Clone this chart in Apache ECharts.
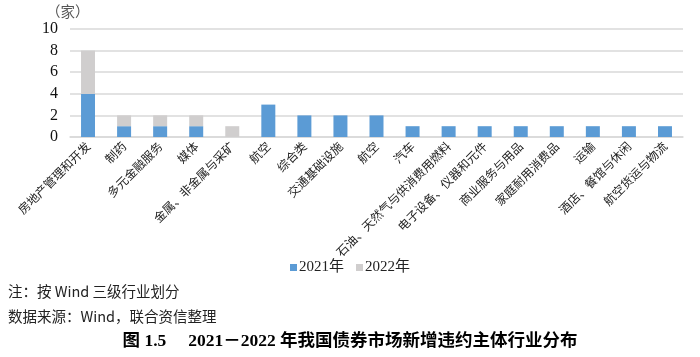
<!DOCTYPE html>
<html>
<head>
<meta charset="utf-8">
<script src="https://cdn.jsdelivr.net/npm/echarts@6.0.0/dist/echarts.min.js"></script>
<style>
html,body{margin:0;padding:0;background:#fff;}
#c{width:700px;height:357px;}
</style>
</head>
<body>
<div id="c"></div>
<script>
const categories = ['房地产管理和开发','制药','多元金融服务','媒体','金属、非金属与采矿','航空','综合类','交通基础设施','航空','汽车','石油、天然气与供消费用燃料','电子设备、仪器和元件','商业服务与用品','家庭耐用消费品','运输','酒店、餐馆与休闲','航空货运与物流'];
const values2021 = [4,1,1,1,0,3,2,2,2,1,1,1,1,1,1,1,1];
const values2022 = [4,1,1,1,1,0,0,0,0,0,0,0,0,0,0,0,0];
const yTicks = [0,2,4,6,8,10];
const seriesNames = ['2021年','2022年'];
const unitLabel = '（家）';
const noteText = '注：按 Wind 三级行业划分';
const sourceText = '数据来源：Wind，联合资信整理';
const titleText = '图 1.5　 2021－2022 年我国债券市场新增违约主体行业分布';

const serif = '"Liberation Serif","Noto Sans CJK SC",serif';
const cjk = '"Noto Sans CJK SC","Liberation Serif",sans-serif';

const chart = echarts.init(document.getElementById('c'), null, {renderer:'canvas'});
chart.setOption({
  animation:false,
  backgroundColor:'#fff',
  grid:{left:70,right:17,top:29,bottom:220,outerBoundsMode:'none',containLabel:false},
  legend:{
    data:seriesNames,
    top:255,left:'center',
    itemWidth:7,itemHeight:7,itemGap:12,
    icon:'rect',
    textStyle:{fontFamily:serif,fontSize:15,color:'#222',padding:[0,0,0,-3]}
  },
  xAxis:{
    type:'category',
    data:categories,
    axisLine:{show:true,lineStyle:{color:'#D9D9D9',width:1.5}},
    axisTick:{show:false},
    axisLabel:{interval:0,rotate:45,margin:7,fontFamily:cjk,fontSize:12,color:'#222'}
  },
  yAxis:{
    type:'value',min:yTicks[0],max:yTicks[yTicks.length-1],interval:2,
    axisLine:{show:false},axisTick:{show:false},
    axisLabel:{fontFamily:serif,fontSize:16,color:'#111',margin:12},
    splitLine:{lineStyle:{color:'#D9D9D9',width:1.5}}
  },
  series:[
    {name:seriesNames[0],type:'bar',stack:'t',data:values2021,barWidth:14,itemStyle:{color:'#5B9BD5'}},
    {name:seriesNames[1],type:'bar',stack:'t',data:values2022,barWidth:14,itemStyle:{color:'#D0CECE'}}
  ],
  graphic:[
    {type:'text',left:46,top:4,style:{text:unitLabel,fontFamily:cjk,fontSize:14.5,fill:'#555'}},
    {type:'text',left:8,top:284,style:{text:noteText,fontFamily:cjk,fontSize:14.5,fill:'#222'}},
    {type:'text',left:8,top:309,style:{text:sourceText,fontFamily:cjk,fontSize:14.5,fill:'#222'}},
    {type:'text',left:'center',top:333,style:{text:titleText,fontFamily:serif,fontSize:17.5,fontWeight:'bold',fill:'#000'}}
  ]
});
</script>
</body>
</html>
